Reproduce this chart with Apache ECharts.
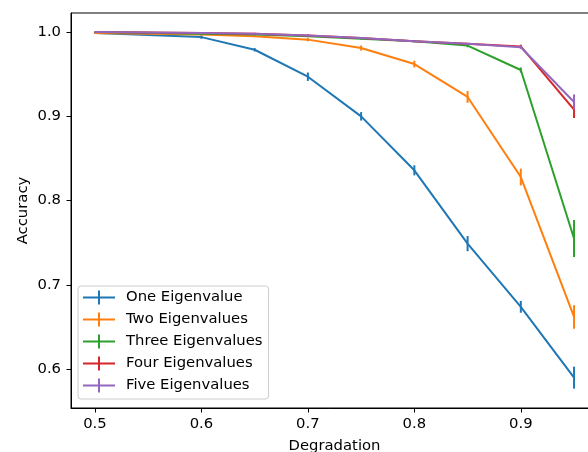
<!DOCTYPE html>
<html><head><meta charset="utf-8">
<script src="https://cdn.jsdelivr.net/npm/echarts@6/dist/echarts.min.js"></script>
<style>html,body{margin:0;padding:0;background:#fff;overflow:hidden}#c{width:588px;height:452px}</style>
</head><body><div id="c"></div>
<script>
const degradation = [0.5, 0.6, 0.65, 0.7, 0.75, 0.8, 0.85, 0.9, 0.95];
const seriesNames = ['One Eigenvalue', 'Two Eigenvalues', 'Three Eigenvalues', 'Four Eigenvalues', 'Five Eigenvalues'];
const oneVals   = [0.999, 0.994, 0.979, 0.947, 0.900, 0.836, 0.749, 0.674, 0.590];
const oneErr    = [0.001, 0.002, 0.002, 0.005, 0.005, 0.006, 0.009, 0.007, 0.013];
const twoVals   = [0.999, 0.997, 0.995, 0.991, 0.981, 0.962, 0.923, 0.828, 0.662];
const twoErr    = [0.001, 0.001, 0.001, 0.002, 0.003, 0.004, 0.007, 0.010, 0.014];
const threeVals = [1.000, 0.998, 0.997, 0.995, 0.992, 0.989, 0.984, 0.955, 0.755];
const threeErr  = [0.0005, 0.001, 0.001, 0.001, 0.001, 0.001, 0.002, 0.003, 0.022];
const fourVals  = [1.000, 0.999, 0.998, 0.996, 0.993, 0.989, 0.986, 0.983, 0.908];
const fourErr   = [0.0005, 0.001, 0.001, 0.001, 0.001, 0.001, 0.001, 0.002, 0.010];
const fiveVals  = [1.000, 0.999, 0.998, 0.996, 0.993, 0.989, 0.986, 0.982, 0.917];
const fiveErr   = [0.0005, 0.001, 0.001, 0.001, 0.001, 0.001, 0.001, 0.002, 0.009];
const xTicks = [0.5, 0.6, 0.7, 0.8, 0.9];
const yTicks = [0.6, 0.7, 0.8, 0.9, 1.0];
const colors = ['#1f77b4', '#ff7f0e', '#2ca02c', '#d62728', '#9467bd'];

const allVals = [oneVals, twoVals, threeVals, fourVals, fiveVals];
const allErr = [oneErr, twoErr, threeErr, fourErr, fiveErr];

const series = [];
seriesNames.forEach((name, i) => {
  series.push({
    name: name, type: 'line', color: colors[i],
    data: degradation.map((x, k) => [x, allVals[i][k]]),
    showSymbol: false, symbol: 'none',
    lineStyle: { width: 2, color: colors[i] },
    animation: false, z: 2 + i * 2
  });
  series.push({
    name: name, type: 'custom', color: colors[i],
    data: degradation.map((x, k) => [x, allVals[i][k] - allErr[i][k], allVals[i][k] + allErr[i][k]]),
    encode: { x: 0, y: [1, 2] },
    renderItem: function (params, api) {
      const lo = api.coord([api.value(0), api.value(1)]);
      const hi = api.coord([api.value(0), api.value(2)]);
      return {
        type: 'line',
        shape: { x1: lo[0], y1: lo[1], x2: hi[0], y2: hi[1] },
        style: { stroke: colors[i], lineWidth: 2 }
      };
    },
    animation: false, z: 3 + i * 2
  });
});

const FS = 14.8;
const chart = echarts.init(document.getElementById('c'), null, { renderer: 'canvas' });
chart.setOption({
  backgroundColor: '#fff',
  textStyle: { fontFamily: 'DejaVu Sans' },
  grid: { left: 71, top: 13, width: 527, height: 395, show: true, borderColor: '#000', borderWidth: 1, backgroundColor: 'transparent', outerBoundsMode: 'none', containLabel: false },
  xAxis: {
    type: 'value', min: 0.4775, max: 0.9725,
    name: 'Degradation', nameLocation: 'middle', nameGap: 31,
    nameTextStyle: { fontSize: FS, color: '#000', fontFamily: 'DejaVu Sans' },
    axisLine: { show: true, onZero: false, lineStyle: { color: '#000', width: 1 } },
    axisTick: { show: true, inside: false, length: 4.5, lineStyle: { color: '#000', width: 1 }, customValues: xTicks },
    axisLabel: { customValues: xTicks, fontSize: FS, color: '#000', margin: 9, fontFamily: 'DejaVu Sans', formatter: v => v.toFixed(1) },
    splitLine: { show: false }
  },
  yAxis: {
    type: 'value', min: 0.554, max: 1.0226,
    name: 'Accuracy', nameLocation: 'middle', nameGap: 40, nameRotate: 90, nameMoveOverlap: false,
    nameTextStyle: { fontSize: FS, color: '#000', fontFamily: 'DejaVu Sans' },
    axisLine: { show: true, onZero: false, lineStyle: { color: '#000', width: 1 } },
    axisTick: { show: true, inside: false, length: 4.5, lineStyle: { color: '#000', width: 1 }, customValues: yTicks },
    axisLabel: { customValues: yTicks, fontSize: FS, color: '#000', margin: 10, fontFamily: 'DejaVu Sans', formatter: v => v.toFixed(1) },
    splitLine: { show: false }
  },
  legend: {
    data: seriesNames.map(n => ({ name: n, icon: 'path://M0,6 L32,6 L32,8 L0,8 Z M15,0 L17,0 L17,14 L15,14 Z' })),
    orient: 'vertical', left: 78, top: 286,
    itemWidth: 32, itemHeight: 14, itemGap: 7,
    padding: [4, 6, 6, 5],
    backgroundColor: 'rgba(255,255,255,0.8)', borderColor: '#cccccc', borderWidth: 1, borderRadius: 3,
    textStyle: { fontSize: FS, color: '#000', fontFamily: 'DejaVu Sans', padding: [0, 0, 0, 6] },
    selectedMode: false, z: 20
  },
  series: series
});
</script>
</body></html>
